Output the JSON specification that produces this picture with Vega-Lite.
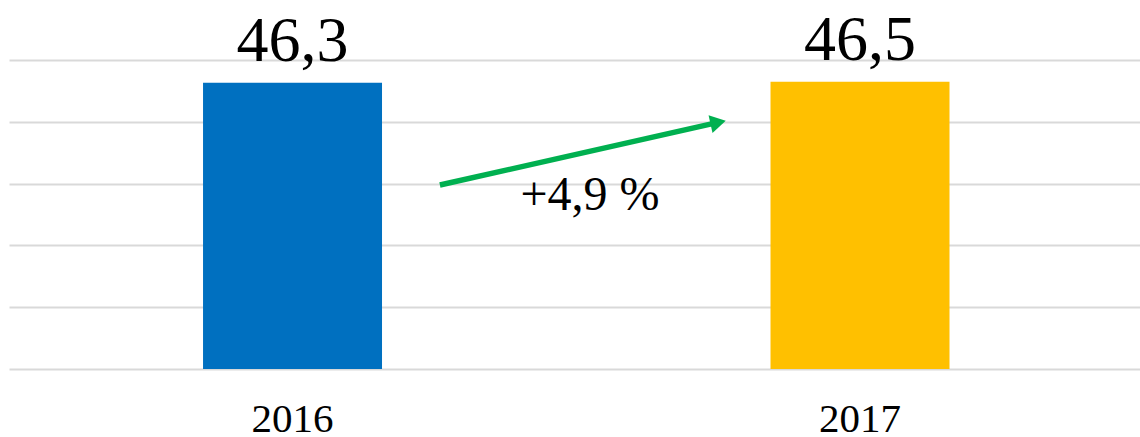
{
  "$schema": "https://vega.github.io/schema/vega-lite/v6.json",
  "width": 1131,
  "height": 309,
  "autosize": {"type": "none"},
  "padding": {"left": 9, "top": 60, "right": 0, "bottom": 68},
  "background": "white",
  "config": {"view": {"stroke": null}, "font": "Liberation Serif"},
  "datasets": {
    "bars": [
      {"year": "2016", "value": 46.3, "label": "46,3"},
      {"year": "2017", "value": 46.5, "label": "46,5"}
    ],
    "arrow": [
      {"pos": 0.381, "value": 29.77},
      {"pos": 0.627, "value": 39.9}
    ],
    "head": [
      {"pos": 0.627, "value": 39.9}
    ],
    "note": [
      {"pos": 0.5137, "value": 25.73, "text": "+4,9 %"}
    ]
  },
  "layer": [
    {
      "data": {"name": "bars"},
      "encoding": {
        "x": {
          "field": "year",
          "type": "nominal",
          "sort": null,
          "scale": {"paddingInner": 0.6846, "paddingOuter": 0.3388, "align": 0.5046},
          "axis": {
            "title": null,
            "labelAngle": 0,
            "domain": false,
            "ticks": false,
            "labelFontSize": 41,
            "labelFont": "Liberation Serif",
            "labelColor": "black",
            "labelPadding": 30
          }
        },
        "y": {
          "field": "value",
          "type": "quantitative",
          "scale": {"domain": [0, 50], "nice": false},
          "axis": {
            "title": null,
            "labels": false,
            "ticks": false,
            "domain": false,
            "values": [0, 10, 20, 30, 40, 50],
            "gridColor": "#d9d9d9",
            "gridWidth": 2
          }
        }
      },
      "layer": [
        {
          "mark": {"type": "bar"},
          "encoding": {
            "color": {
              "field": "year",
              "type": "nominal",
              "scale": {"domain": ["2016", "2017"], "range": ["#0070C0", "#FFC000"]},
              "legend": null
            }
          }
        },
        {
          "mark": {"type": "text", "dy": -22, "baseline": "alphabetic", "fontSize": 64, "font": "Liberation Serif", "color": "black"},
          "encoding": {"text": {"field": "label"}}
        }
      ]
    },
    {
      "data": {"name": "arrow"},
      "mark": {"type": "line", "color": "#00B050", "strokeWidth": 5.5, "strokeCap": "butt"},
      "encoding": {
        "x": {"field": "pos", "type": "quantitative", "scale": {"domain": [0, 1], "nice": false, "zero": false}, "axis": null},
        "y": {"field": "value", "type": "quantitative"}
      }
    },
    {
      "data": {"name": "head"},
      "mark": {"type": "point", "shape": "triangle-right", "filled": true, "color": "#00B050", "opacity": 1, "size": 324, "angle": -12.7},
      "encoding": {
        "x": {"field": "pos", "type": "quantitative", "scale": {"domain": [0, 1], "nice": false, "zero": false}, "axis": null},
        "y": {"field": "value", "type": "quantitative"}
      }
    },
    {
      "data": {"name": "note"},
      "mark": {"type": "text", "baseline": "alphabetic", "fontSize": 48, "font": "Liberation Serif", "color": "black"},
      "encoding": {
        "x": {"field": "pos", "type": "quantitative", "scale": {"domain": [0, 1], "nice": false, "zero": false}, "axis": null},
        "y": {"field": "value", "type": "quantitative"},
        "text": {"field": "text"}
      }
    }
  ],
  "resolve": {"scale": {"x": "independent"}}
}
